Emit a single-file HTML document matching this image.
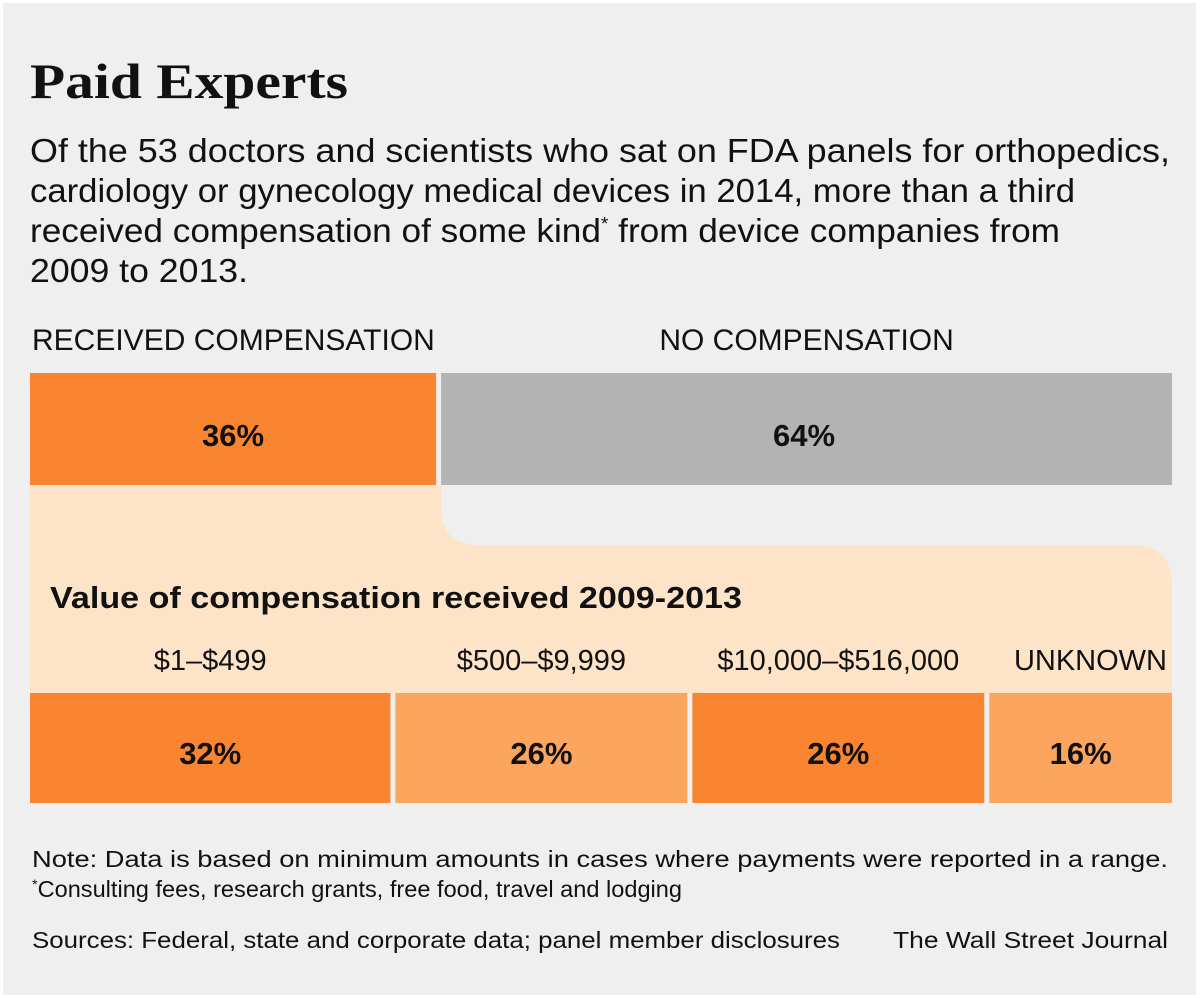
<!DOCTYPE html>
<html><head><meta charset="utf-8"><style>
html,body{margin:0;padding:0;background:#fff;width:1200px;height:998px;overflow:hidden}
svg{display:block}
text{font-family:"Liberation Sans",sans-serif;fill:#111}
</style></head><body>
<svg id="chart" width="1200" height="998" viewBox="0 0 1200 998" xmlns="http://www.w3.org/2000/svg">
<rect x="3" y="3" width="1193" height="992" fill="#efefef"/>
<text x="30" y="98" font-family="Liberation Serif" font-weight="bold" font-size="50" textLength="318" lengthAdjust="spacingAndGlyphs" style="font-family:'Liberation Serif',serif">Paid Experts</text>
<g font-size="33">
<text x="30" y="162" textLength="1140" lengthAdjust="spacingAndGlyphs">Of the 53 doctors and scientists who sat on FDA panels for orthopedics,</text>
<text x="30" y="202" textLength="1045" lengthAdjust="spacingAndGlyphs">cardiology or gynecology medical devices in 2014, more than a third</text>
<text x="30" y="242" textLength="1030" lengthAdjust="spacingAndGlyphs">received compensation of some kind<tspan font-size="18" dy="-12">*</tspan><tspan dy="12"> from device companies from</tspan></text>
<text x="30" y="282" textLength="218" lengthAdjust="spacingAndGlyphs">2009 to 2013.</text>
</g>
<path fill="#fde4c9" d="M30 485 H441 V507 Q441 545 479 545 H1132 Q1172 545 1172 585 V693 H30 Z"/>
<g id="top"></g>
<text x="50" y="608" font-size="31" font-weight="bold" textLength="692" lengthAdjust="spacingAndGlyphs">Value of compensation received 2009-2013</text>
<g id="bottom"></g>
<g font-size="23">
<text x="32" y="867" textLength="1136" lengthAdjust="spacingAndGlyphs">Note: Data is based on minimum amounts in cases where payments were reported in a range.</text>
<text x="32" y="897" textLength="650" lengthAdjust="spacingAndGlyphs"><tspan font-size="14" dy="-8">*</tspan><tspan dy="8">Consulting fees, research grants, free food, travel and lodging</tspan></text>
<text x="32" y="948" textLength="808" lengthAdjust="spacingAndGlyphs">Sources: Federal, state and corporate data; panel member disclosures</text>
<text x="893" y="948" textLength="275" lengthAdjust="spacingAndGlyphs">The Wall Street Journal</text>
</g>
</svg>
<script>
const topCats = ["RECEIVED COMPENSATION","NO COMPENSATION"];
const topValues = [36,64];
const topColors = ["#fa8530","#b3b3b3"];
const botCats = ["$1\u2013$499","$500\u2013$9,999","$10,000\u2013$516,000","UNKNOWN"];
const botValues = [32,26,26,16];
const botColors = ["#fa8530","#fca55e","#fa8530","#fca55e"];
const NS="http://www.w3.org/2000/svg";
const X0=30, W=1142, GAP=5;
function xs(vals){const t=vals.reduce((a,b)=>a+b,0);let acc=0;return vals.map(v=>{const a=X0+acc/t*W;acc+=v;return [a,X0+acc/t*W];});}
function mk(tag,attrs,parent){const e=document.createElementNS(NS,tag);for(const k in attrs)e.setAttribute(k,attrs[k]);parent.appendChild(e);return e;}
const topG=document.getElementById('top');
xs(topValues).forEach(([a,b],i)=>{
  const r=mk('rect',{x:a,y:373,width:b-a-(i<topValues.length-1?GAP:0),height:112,fill:topColors[i]},topG);
  
  
  const t=mk('text',{x:(a+b-GAP)/2,y:446,'font-size':31,'font-weight':'bold','text-anchor':'middle'},topG);
  t.textContent=topValues[i]+'%';
  
  
  const h=mk('text',{x:i===0?32:(a+b)/2,y:350,'font-size':30,'text-anchor':i===0?'start':'middle'},topG);
  h.textContent=topCats[i];
  
  
});
const botG=document.getElementById('bottom');
xs(botValues).forEach(([a,b],i)=>{
  const w=b-a-(i<botValues.length-1?GAP:0);
  const r=mk('rect',{x:a,y:693,width:w,height:110,fill:botColors[i]},botG);
  
  
  const t=mk('text',{x:a+w/2,y:764,'font-size':31,'font-weight':'bold','text-anchor':'middle'},botG);
  t.textContent=botValues[i]+'%';
  
  
  const h=mk('text',{x:i===3?1167:a+w/2,y:670,'font-size':29,'text-anchor':i===3?'end':'middle'},botG);
  h.textContent=botCats[i];
  
  
});
</script>
</body></html>
